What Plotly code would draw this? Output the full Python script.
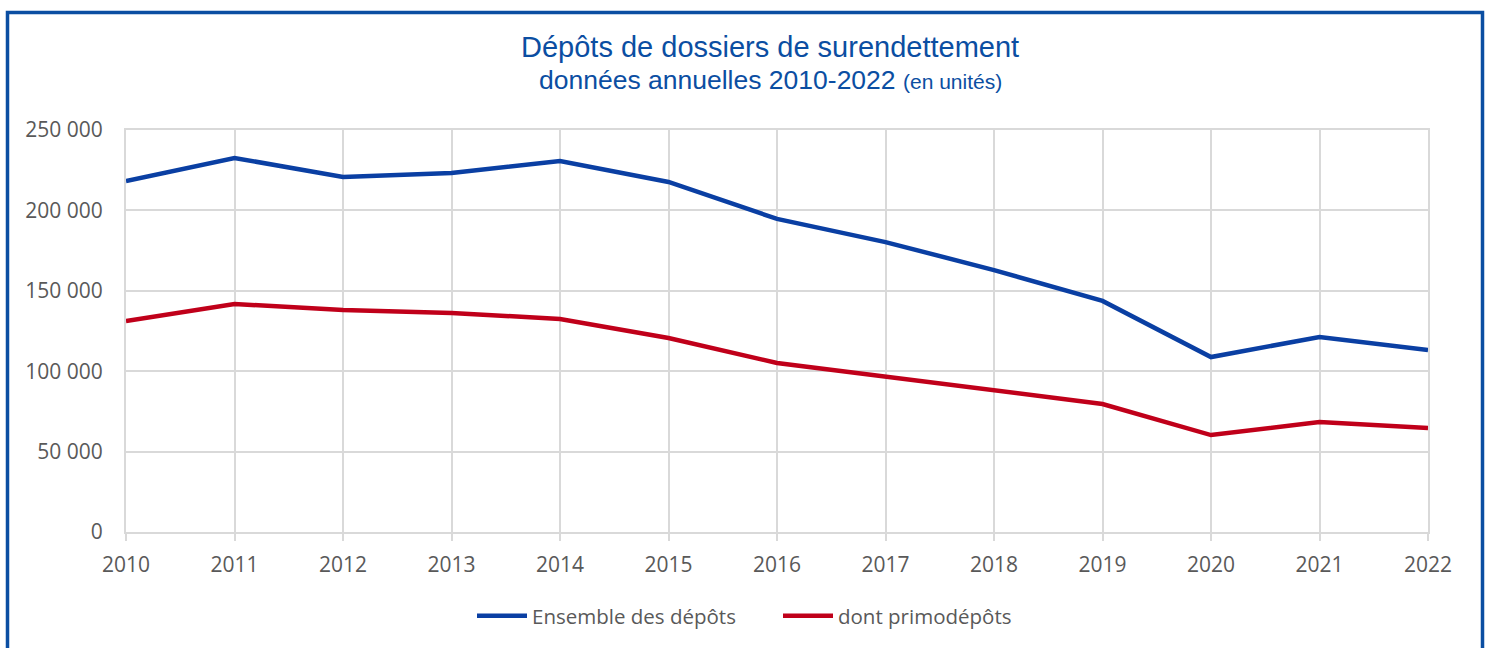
import plotly.graph_objects as go

years = [str(y) for y in range(2010, 2023)]
ensemble = [218300, 232600, 220800, 223300, 230700, 217700, 194700, 180300, 162900, 143700, 108800, 121300, 113200]
primo = [131200, 141800, 138100, 136200, 132500, 120600, 105100, 96400, 88300, 79600, 60300, 68400, 64700]
ytick_vals = [0, 50000, 100000, 150000, 200000, 250000]
ytick_text = ["0", "50 000", "100 000", "150 000", "200 000", "250 000"]

W, H = 1491, 648
L, R, T, B = 126, 63, 130, 116
pw, ph = W - L - R, H - T - B

def px(x):
    return (x - L) / pw

def py(y):
    return (H - B - y) / ph

fig = go.Figure()
fig.add_trace(go.Scatter(x=years, y=ensemble, mode="lines", name="Ensemble des dépôts",
                         line=dict(color="#0A3FA3", width=4.5)))
fig.add_trace(go.Scatter(x=years, y=primo, mode="lines", name="dont primodépôts",
                         line=dict(color="#C0001A", width=4.5)))

fig.update_layout(
    width=W, height=H,
    margin=dict(l=L, r=R, t=T, b=B),
    paper_bgcolor="white", plot_bgcolor="white",
    font=dict(family="Open Sans", size=21, color="#595959"),
    showlegend=True,
    legend=dict(orientation="h", x=px(778), xanchor="center", y=py(616), yanchor="middle",
                font=dict(size=20.5, color="#595959"), itemwidth=50, tracegroupgap=0,
                entrywidth=241),
    shapes=[dict(type="rect", xref="paper", yref="paper",
                 x0=px(7.5), x1=px(1482.5), y0=py(700), y1=py(12.5),
                 line=dict(color="#0B4EA2", width=3.5), fillcolor="rgba(0,0,0,0)", layer="above")],
    annotations=[
        dict(text="Dépôts de dossiers de surendettement", xref="paper", yref="paper",
             x=px(770), y=py(47), xanchor="center", yanchor="middle", showarrow=False,
             font=dict(family="Liberation Sans", size=29, color="#0B4EA2")),
        dict(text="données annuelles 2010-2022 <span style='font-size:21px'>(en unités)</span>",
             xref="paper", yref="paper", x=px(770), y=py(80), xanchor="center", yanchor="middle",
             showarrow=False, font=dict(family="Liberation Sans", size=26.5, color="#0B4EA2")),
    ],
)
fig.update_xaxes(type="category", range=[0, 12], showgrid=True, gridcolor="#D9D9D9", gridwidth=2,
                 ticks="outside", ticklen=7, tickcolor="#D9D9D9", tickwidth=2,
                 showline=True, linecolor="#D9D9D9", linewidth=2, mirror=True,
                 tickfont=dict(size=21, color="#595959"), ticklabelstandoff=6)
fig.update_yaxes(range=[0, 250000], tickvals=ytick_vals, ticktext=ytick_text,
                 showgrid=True, gridcolor="#D9D9D9", gridwidth=2, zeroline=False,
                 showline=True, linecolor="#D9D9D9", linewidth=2, mirror=True,
                 ticks="", tickfont=dict(size=21, color="#595959"), ticklabelstandoff=17)

fig.write_html("out.html", config={"displayModeBar": False},
               post_script="document.body.style.margin='0';")
